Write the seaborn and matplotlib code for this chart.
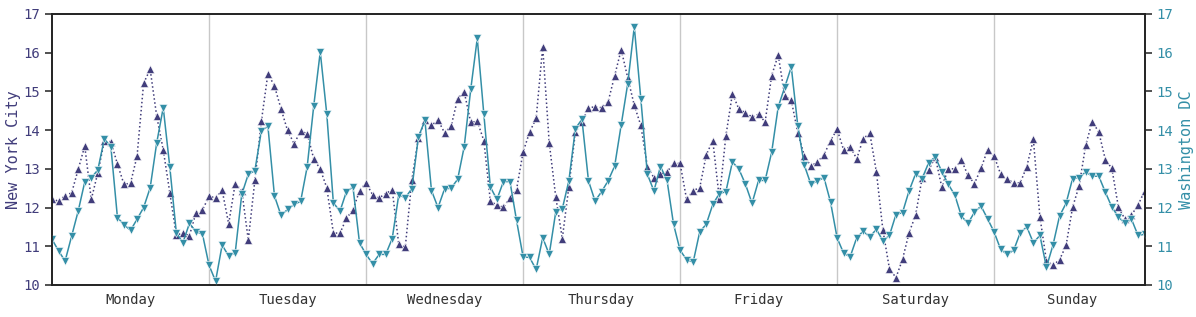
import numpy as np
import pandas as pd
import matplotlib
matplotlib.use("Agg")
import matplotlib.pyplot as plt
import seaborn as sns

days = ["Monday", "Tuesday", "Wednesday", "Thursday", "Friday", "Saturday", "Sunday"]

nyc = [
    12.23, 12.16, 12.31, 12.38, 12.99, 13.59, 12.21, 12.90, 13.72, 13.70, 13.12, 12.60, 12.63, 13.33, 15.21, 15.57, 14.36, 13.49, 12.38, 11.28, 11.35, 11.27, 11.87, 11.94,
    12.29, 12.25, 12.45, 11.58, 12.62, 12.44, 11.16, 12.70, 14.23, 15.46, 15.14, 14.55, 13.99, 13.65, 13.97, 13.91, 13.26, 12.99, 12.51, 11.35, 11.33, 11.72, 11.94, 12.43,
    12.64, 12.33, 12.25, 12.36, 12.46, 11.05, 10.98, 12.71, 13.80, 14.25, 14.12, 14.26, 13.93, 14.10, 14.81, 14.99, 14.20, 14.23, 13.73, 12.17, 12.06, 12.01, 12.25, 12.46,
    13.43, 13.95, 14.30, 16.15, 13.67, 12.27, 11.20, 12.54, 13.95, 14.20, 14.58, 14.60, 14.58, 14.73, 15.40, 16.08, 15.35, 14.64, 14.12, 13.06, 12.77, 12.86, 12.92, 13.14,
    13.14, 12.21, 12.44, 12.51, 13.36, 13.73, 12.23, 13.85, 14.94, 14.54, 14.45, 14.34, 14.41, 14.21, 15.41, 15.94, 14.88, 14.77, 13.93, 13.33, 13.07, 13.18, 13.36, 13.73,
    14.02, 13.49, 13.57, 13.26, 13.78, 13.92, 12.93, 11.42, 10.42, 10.19, 10.66, 11.35, 11.80, 12.77, 12.96, 13.31, 12.53, 13.00, 13.00, 13.23, 12.83, 12.62, 13.01, 13.49,
    13.33, 12.86, 12.73, 12.64, 12.64, 13.06, 13.76, 11.76, 10.62, 10.51, 10.65, 11.02, 12.01, 12.56, 13.61, 14.22, 13.95, 13.24, 13.01, 12.01, 11.70, 11.81, 12.06, 12.43,
]

dc = [
    11.18, 10.88, 10.62, 11.27, 11.91, 12.66, 12.77, 12.97, 13.78, 13.56, 11.74, 11.56, 11.41, 11.70, 12.00, 12.51, 13.67, 14.58, 13.05, 11.35, 11.09, 11.59, 11.38, 11.31,
    10.51, 10.10, 11.03, 10.75, 10.83, 12.34, 12.86, 12.95, 13.98, 14.10, 12.30, 11.80, 11.95, 12.08, 12.16, 13.05, 14.62, 16.02, 14.41, 12.13, 11.90, 12.41, 12.53, 11.09,
    10.79, 10.55, 10.79, 10.79, 11.20, 12.33, 12.25, 12.49, 13.82, 14.25, 12.44, 12.00, 12.48, 12.50, 12.73, 13.57, 15.05, 16.37, 14.42, 12.53, 12.21, 12.67, 12.67, 11.67,
    10.73, 10.71, 10.40, 11.22, 10.79, 11.89, 11.97, 12.69, 14.04, 14.28, 12.69, 12.17, 12.41, 12.69, 13.07, 14.13, 15.20, 16.67, 14.81, 12.86, 12.43, 13.06, 12.71, 11.57,
    10.90, 10.65, 10.59, 11.37, 11.57, 12.08, 12.36, 12.41, 13.18, 12.99, 12.60, 12.11, 12.70, 12.70, 13.43, 14.60, 15.11, 15.63, 14.10, 13.09, 12.60, 12.69, 12.77, 12.14,
    11.22, 10.82, 10.73, 11.22, 11.39, 11.24, 11.44, 11.14, 11.28, 11.82, 11.87, 12.43, 12.87, 12.75, 13.16, 13.31, 12.93, 12.60, 12.32, 11.78, 11.59, 11.88, 12.04, 11.71,
    11.37, 10.92, 10.79, 10.90, 11.35, 11.50, 11.09, 11.28, 10.46, 11.03, 11.78, 12.11, 12.75, 12.77, 12.92, 12.81, 12.81, 12.40, 12.01, 11.76, 11.59, 11.70, 11.28, 11.31,
]

hours = np.arange(len(nyc))
df = pd.DataFrame({"hour": hours, "nyc": nyc, "dc": dc})

sns.set_theme(style="white")
plt.rcParams["font.family"] = ["DejaVu Sans Mono", "DejaVu Sans"]

pal = sns.color_palette("mako", 6)
c_nyc = pal[1]
c_dc = pal[3]

fig, ax = plt.subplots(figsize=(11.96, 3.17), dpi=100)
fig.subplots_adjust(left=0.0435, right=0.957, top=0.956, bottom=0.101)
ax2 = ax.twinx()

sns.lineplot(data=df, x="hour", y="nyc", ax=ax, color=c_nyc, linestyle=":",
             marker="^", markersize=5.5, markeredgecolor="white", markeredgewidth=0.4,
             linewidth=1.1)
sns.lineplot(data=df, x="hour", y="dc", ax=ax2, color=c_dc, linestyle="-",
             marker="v", markersize=5.5, markeredgecolor="white", markeredgewidth=0.4,
             linewidth=1.1)

for a in (ax, ax2):
    a.set_ylim(10, 17)
    a.set_xlim(0, len(nyc) - 1)
    a.set_yticks(range(10, 18))

ax.set_xticks(np.arange(24, len(nyc), 24))
ax.set_xticklabels([])
ax.set_xticks(np.arange(12, len(nyc), 24), minor=True)
ax.set_xticklabels(days, minor=True, color="#333333", fontsize=10)
ax.tick_params(axis="x", which="both", length=0, pad=6)
ax.grid(axis="x", which="major", color="#c8c8c8", linewidth=1)
ax.set_xlabel("")

ax.set_ylabel("New York City", color=c_nyc, fontsize=11, labelpad=2)
ax2.set_ylabel("Washington DC", color=c_dc, fontsize=11, labelpad=4)
ax.tick_params(axis="y", colors="#333333", labelcolor=c_nyc, labelsize=10, length=5, width=1.2, left=True)
ax2.tick_params(axis="y", colors="#333333", labelcolor=c_dc, labelsize=10, length=5, width=1.2, right=True)

for a in (ax, ax2):
    for s in a.spines.values():
        s.set_color("#222222")
        s.set_linewidth(1.2)

fig.savefig("out.png", dpi=100)
